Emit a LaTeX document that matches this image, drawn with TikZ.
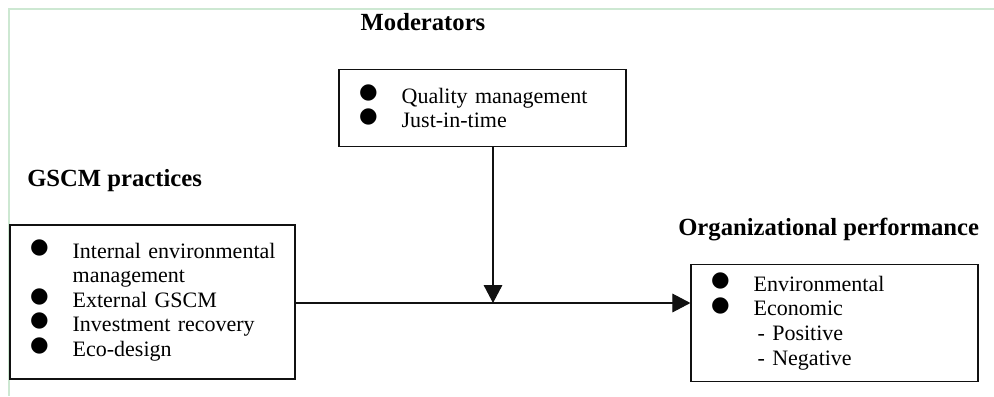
\documentclass[tikz,border=0pt]{standalone}
\usepackage{fontspec}
\setmainfont{Liberation Serif}
\newfontfamily\dotfont{DejaVu Sans}
\usetikzlibrary{arrows.meta,positioning}
\definecolor{FrameGreen}{HTML}{CDE8D2}
\definecolor{Ink}{HTML}{111111}
\newcommand{\dotitem}{\makebox[32pt][l]{\smash{\raisebox{3.6pt}{\dotfont\fontsize{16}{16}\selectfont ●}}}}
\newcommand{\hangline}{\hspace*{32pt}}
\tikzset{
  factor/.style={draw=Ink, line width=0.9pt, align=left, inner xsep=15pt, inner ysep=0pt,
    font=\fontsize{16.5}{18.4}\selectfont},
  heading/.style={font=\fontsize{18.5}{20}\selectfont\bfseries, inner sep=0pt},
  link/.style={draw=Ink, line width=0.8pt, -{Triangle[length=13.5pt,width=14pt]}}
}

\begin{document}
\begin{tikzpicture}[x=0.75pt,y=-0.75pt]
  \useasboundingbox (0,0) rectangle (994,396);
  \draw[FrameGreen, line width=1pt] (994,9) -- (9,9) -- (9,396);

  % the three boxes
  \node[factor, text width=183.75pt, minimum height=115.5pt] (gscm) at (152.5,302) {%
    \dotitem \mbox{Internal environmental}\\
    \hangline management\\
    \dotitem External GSCM\\
    \dotitem Investment recovery\\
    \dotitem Eco-design};
  \node[factor, text width=185.25pt, minimum height=57.75pt] (mod) at (482.5,108) {%
    \dotitem Quality management\\
    \dotitem Just-in-time};
  \node[factor, text width=185.25pt, minimum height=87.75pt] (perf) at (834.5,323) {%
    \dotitem Environmental\\
    \dotitem Economic\\
    \hspace*{35pt}- Positive\\
    \hspace*{35pt}- Negative};

  % headings
  \node[heading] (modtitle) at (423,22) {Moderators};
  \node[heading, anchor=west] (gscmtitle) at (27,181) {GSCM practices};
  \node[heading, anchor=west] (perftitle) at (678,230) {Organizational performance};

  % links
  \coordinate (meet) at (493,303);
  \draw[link] (gscm.east |- meet) -- (perf.west |- meet);
  \draw[link] (mod.south -| meet) -- (meet);
\end{tikzpicture}
\end{document}
